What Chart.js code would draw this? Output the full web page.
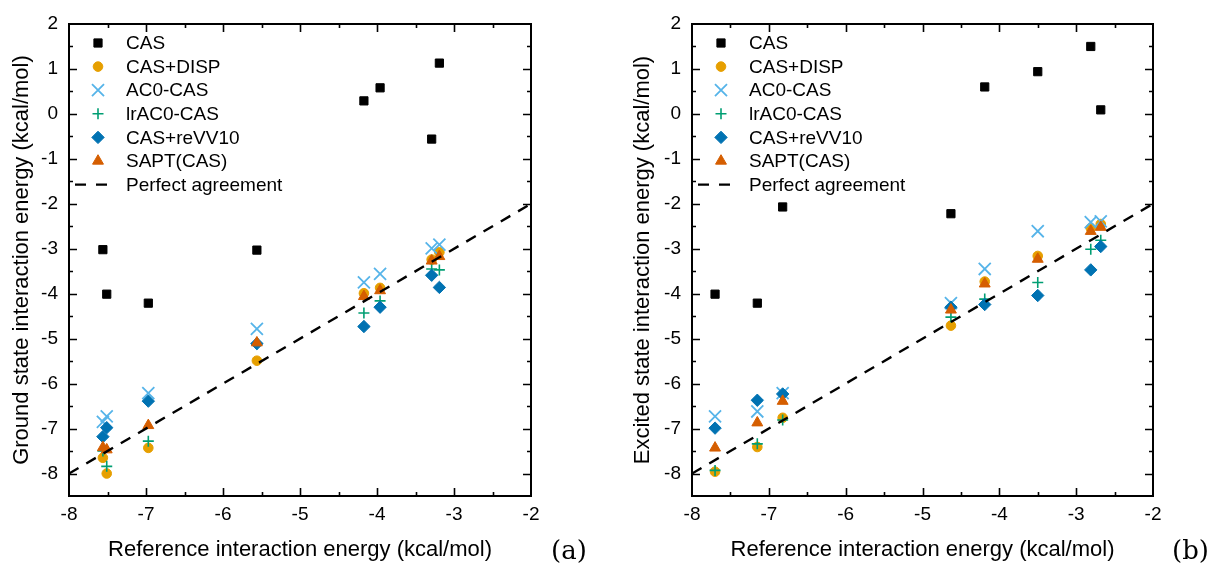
<!DOCTYPE html>
<html>
<head>
<meta charset="utf-8">
<script src="https://cdn.jsdelivr.net/npm/chart.js@4.4.1/dist/chart.umd.min.js"></script>
<style>
  body { margin: 0; background: #fff; }
  #page { position: relative; width: 1214px; height: 571px; overflow: hidden; }
  .panel { position: absolute; top: 0; width: 607px; height: 571px; }
  #panelA { left: 0; }
  #panelB { left: 607px; }
  .tag { position: absolute; top: 535px; font-family: "DejaVu Serif", "Liberation Serif", serif; font-size: 26px; color: #000; }
</style>
</head>
<body>
<div id="page">
  <div class="panel" id="panelA"><canvas id="chartA" width="607" height="571"></canvas></div>
  <div class="panel" id="panelB"><canvas id="chartB" width="607" height="571"></canvas></div>
  <div class="tag" style="left:551px">(a)</div>
  <div class="tag" style="left:1172px">(b)</div>
</div>
<script>
// Series labels, shared by both panels
const seriesNames = ['CAS', 'CAS+DISP', 'AC0-CAS', 'lrAC0-CAS', 'CAS+reVV10', 'SAPT(CAS)'];

// Panel (a): ground state
const refA     = [-7.56, -7.51, -6.97, -5.56, -4.17, -3.96, -3.29, -3.19];
const casA     = [-3.02, -4.01, -4.21, -3.03,  0.29,  0.58, -0.56,  1.13];
const dispA    = [-7.65, -8.00, -7.43, -5.49, -3.99, -3.87, -3.24, -3.08];
const ac0A     = [-6.85, -6.73, -6.21, -4.78, -3.75, -3.56, -2.99, -2.91];
const lrac0A   = [-7.50, -7.84, -7.28, -5.12, -4.43, -4.16, -3.45, -3.47];
const revv10A  = [-7.18, -6.98, -6.39, -5.11, -4.73, -4.30, -3.59, -3.86];
const saptA    = [-7.42, -7.47, -6.93, -5.09, -4.06, -3.93, -3.27, -3.17];

// Panel (b): excited state
const refB     = [-7.70, -7.15, -6.82, -4.63, -4.19, -3.50, -2.81, -2.68];
const casB     = [-4.01, -4.21, -2.07, -2.22,  0.60,  0.94,  1.50,  0.09];
const dispB    = [-7.96, -7.41, -6.76, -4.71, -3.73, -3.16, -2.54, -2.45];
const ac0B     = [-6.73, -6.62, -6.21, -4.21, -3.45, -2.61, -2.41, -2.39];
const lrac0B   = [-7.93, -7.34, -6.81, -4.52, -4.12, -3.75, -3.01, -2.81];
const revv10B  = [-6.99, -6.37, -6.23, -4.30, -4.24, -4.04, -3.47, -2.95];
const saptB    = [-7.43, -6.87, -6.39, -4.36, -3.78, -3.23, -2.61, -2.52];

// y = x reference line
const perfectX = [-8, -2];
const perfectY = [-8, -2];

// axis ticks
const xTicks = [-8, -7, -6, -5, -4, -3, -2];
const yTicks = [2, 1, 0, -1, -2, -3, -4, -5, -6, -7, -8];

const MARKERS = [
  { pointStyle: 'rect',     radius: 5.8, color: '#000000', lw: 1 },
  { pointStyle: 'circle',   radius: 4.8, color: '#E69F00', lw: 1 },
  { pointStyle: 'crossRot', radius: 8.5, color: '#56B4E9', lw: 1.8 },
  { pointStyle: 'cross',    radius: 5.5, color: '#009E73', lw: 1.6 },
  { pointStyle: 'rectRot',  radius: 6.2, color: '#0072B2', lw: 1 },
  { pointStyle: 'triangle', radius: 6.3, color: '#D55E00', lw: 1 },
];

const FONT = 'Liberation Sans, Arial, sans-serif';

function pts(xs, ys) {
  return xs.map((x, i) => ({ x: x, y: ys[i] }));
}

// frame with inward major/minor ticks on all four sides
const frameTicks = {
  id: 'frameTicks',
  afterDatasetsDraw(chart) {
    const { ctx, chartArea: a, scales: { x, y } } = chart;
    ctx.save();
    ctx.strokeStyle = '#000';
    ctx.lineWidth = 1.6;
    ctx.beginPath();
    for (let v = -7.5; v <= -2.001; v += 0.5) {
      const len = Number.isInteger(v) ? 8 : 4;
      const px = Math.round(x.getPixelForValue(v)) + 0.5;
      ctx.moveTo(px, a.bottom); ctx.lineTo(px, a.bottom - len);
      ctx.moveTo(px, a.top); ctx.lineTo(px, a.top + len);
    }
    for (let v = -8; v <= 1.501; v += 0.5) {
      const len = Number.isInteger(v) ? 8 : 4;
      const py = Math.round(y.getPixelForValue(v)) + 0.5;
      ctx.moveTo(a.left, py); ctx.lineTo(a.left + len, py);
      ctx.moveTo(a.right, py); ctx.lineTo(a.right - len, py);
    }
    ctx.stroke();
    ctx.lineWidth = 2;
    ctx.strokeRect(a.left, a.top, a.right - a.left, a.bottom - a.top);
    ctx.restore();
  }
};

// legend drawn inside the plot area, top left
const insideLegend = {
  id: 'insideLegend',
  afterDraw(chart) {
    const { ctx, chartArea: a } = chart;
    const mx = a.left + 29, tx = a.left + 57, y0 = a.top + 19, dy = 23.6;
    ctx.save();
    ctx.font = '19px ' + FONT;
    ctx.textBaseline = 'middle';
    seriesNames.forEach((name, i) => {
      const m = MARKERS[i];
      const y = y0 + i * dy;
      ctx.fillStyle = m.color;
      ctx.strokeStyle = m.color;
      ctx.lineWidth = m.lw;
      Chart.helpers.drawPoint(ctx, { pointStyle: m.pointStyle, radius: m.radius, borderWidth: m.lw, rotation: 0 }, mx, y);
      ctx.fillStyle = '#000';
      ctx.fillText(name, tx, y + 1);
    });
    const y = y0 + 6 * dy;
    ctx.strokeStyle = '#000';
    ctx.lineWidth = 2.4;
    ctx.setLineDash([11, 10]);
    ctx.beginPath();
    ctx.moveTo(a.left + 6, y); ctx.lineTo(a.left + 39, y);
    ctx.stroke();
    ctx.setLineDash([]);
    ctx.fillStyle = '#000';
    ctx.fillText('Perfect agreement', tx, y + 1);
    ctx.restore();
  }
};

function makePanel(canvasId, refs, series, yTitle, box) {
  const datasets = series.map((vals, i) => {
    const m = MARKERS[i];
    return {
      label: seriesNames[i],
      data: pts(refs, vals),
      pointStyle: m.pointStyle,
      pointRadius: m.radius,
      pointHoverRadius: m.radius,
      backgroundColor: m.color,
      borderColor: m.color,
      pointBorderWidth: m.lw,
      order: series.length - i,
    };
  });
  datasets.push({
    label: 'Perfect agreement',
    type: 'line',
    data: pts(perfectX, perfectY),
    borderColor: '#000',
    borderWidth: 2.4,
    borderDash: [11, 9],
    pointRadius: 0,
    fill: false,
    order: 0,
  });

  return new Chart(document.getElementById(canvasId), {
    type: 'scatter',
    data: { datasets },
    options: {
      responsive: false,
      animation: false,
      events: [],
      layout: { padding: { left: 0, right: 607 - box.right, top: box.top, bottom: 0 } },
      plugins: { legend: { display: false }, tooltip: { enabled: false } },
      scales: {
        x: {
          type: 'linear',
          min: -8, max: -2,
          afterBuildTicks: s => { s.ticks = xTicks.map(v => ({ value: v })); },
          afterFit: s => { s.height = 571 - box.bottom; },
          grid: { display: false, drawTicks: false },
          border: { display: false },
          ticks: { color: '#000', padding: 7, font: { family: FONT, size: 19 } },
          title: {
            display: true, text: 'Reference interaction energy (kcal/mol)',
            color: '#000', font: { family: FONT, size: 22 }, padding: { top: 8, bottom: 8 },
          },
        },
        y: {
          type: 'linear',
          min: -8.5, max: 2,
          afterBuildTicks: s => { s.ticks = yTicks.map(v => ({ value: v })); },
          afterFit: s => { s.width = box.left; },
          grid: { display: false, drawTicks: false },
          border: { display: false },
          ticks: { color: '#000', padding: 11, font: { family: FONT, size: 19 } },
          title: {
            display: true, text: yTitle,
            color: '#000', font: { family: FONT, size: 22 }, padding: { top: box.titlePad, bottom: 0 },
          },
        },
      },
    },
    plugins: [frameTicks, insideLegend],
  });
}

makePanel('chartA', refA, [casA, dispA, ac0A, lrac0A, revv10A, saptA],
  'Ground state interaction energy (kcal/mol)',
  { left: 69, right: 531, top: 24, bottom: 496, titlePad: 9 });

makePanel('chartB', refB, [casB, dispB, ac0B, lrac0B, revv10B, saptB],
  'Excited state interaction energy (kcal/mol)',
  { left: 85, right: 546, top: 24, bottom: 496, titlePad: 23 });
</script>
</body>
</html>
